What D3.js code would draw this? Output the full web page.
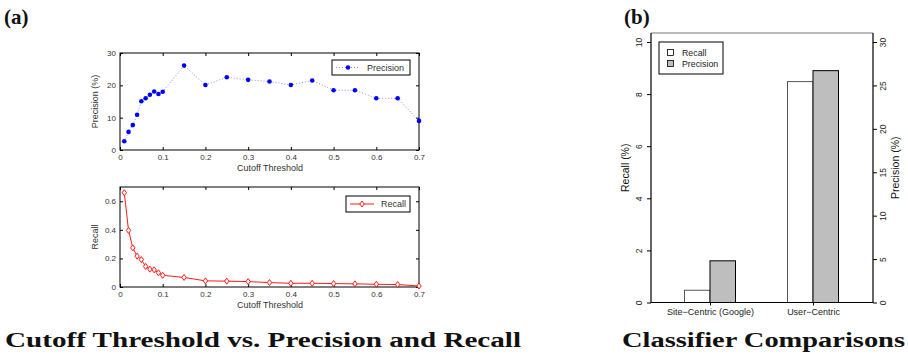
<!DOCTYPE html>
<html>
<head>
<meta charset="utf-8">
<script src="https://cdn.jsdelivr.net/npm/d3@7"></script>
<style>
  body { margin: 0; background: #fff; }
</style>
</head>
<body>
<svg id="chart" width="908" height="356"></svg>
<script>
// cutoff threshold sweep
const thresholds = [0.01, 0.02, 0.03, 0.04, 0.05, 0.06, 0.07, 0.08, 0.09, 0.10,
  0.15, 0.2, 0.25, 0.3, 0.35, 0.4, 0.45, 0.5, 0.55, 0.6, 0.65, 0.7];
const precision = [2.7, 5.6, 7.7, 10.9, 15.1, 16.0, 17.1, 18.1, 17.3, 18.0,
  26.1, 20.1, 22.5, 21.7, 21.2, 20.1, 21.5, 18.5, 18.5, 16.0, 16.0, 9.0];
const recall = [0.66, 0.396, 0.274, 0.216, 0.192, 0.144, 0.125, 0.12, 0.10, 0.082,
  0.067, 0.043, 0.041, 0.038, 0.031, 0.026, 0.026, 0.024, 0.022, 0.019, 0.017, 0.007];
const xTicks = [0, 0.1, 0.2, 0.3, 0.4, 0.5, 0.6, 0.7];
const precTicks = [0, 10, 20, 30];
const recallTicks = [0, 0.2, 0.4, 0.6];

// classifier comparison
const classifiers = ["Site\u2212Centric (Google)", "User\u2212Centric"];
const classRecall = [0.47, 8.48];      // %
const classPrecision = [4.8, 26.7];    // %
const leftTicks = [0, 2, 4, 6, 8, 10];
const rightTicks = [0, 5, 10, 15, 20, 25, 30];

const SANS = "'Liberation Sans', Arial, Helvetica, sans-serif";
const SERIF = "'Liberation Serif', 'DejaVu Serif', serif";

const svg = d3.select("#chart").style("font-family", SANS);
const tickCol = "#333";

function txt(sel, size, col) {
  return sel.attr("font-size", size).attr("fill", col || tickCol).style("font-family", SANS);
}

// ---------- panel (a) ----------
const x = d3.scaleLinear().domain([0, 0.7]).range([120, 419]);

function matlabAxes(y, ticks, y0, y1, ylabel) {
  svg.append("rect")
    .attr("x", 120).attr("y", y0)
    .attr("width", 299).attr("height", y1 - y0)
    .attr("fill", "none").attr("stroke", "#000").attr("stroke-width", 1);

  const gx = svg.append("g").attr("transform", "translate(0," + y1 + ")")
    .call(d3.axisBottom(x).tickValues(xTicks).tickSize(-3).tickPadding(4).tickFormat(d3.format("")));
  gx.attr("font-family", null).select(".domain").remove();
  txt(gx.selectAll("text"), 8);
  const gxt = svg.append("g").attr("transform", "translate(0," + y0 + ")")
    .call(d3.axisTop(x).tickValues(xTicks).tickSize(-3).tickFormat(""));
  gxt.select(".domain").remove();

  const gy = svg.append("g").attr("transform", "translate(120,0)")
    .call(d3.axisLeft(y).tickValues(ticks).tickSize(-3).tickPadding(4).tickFormat(d3.format("")));
  gy.attr("font-family", null).select(".domain").remove();
  txt(gy.selectAll("text"), 8);
  const gyr = svg.append("g").attr("transform", "translate(419,0)")
    .call(d3.axisRight(y).tickValues(ticks).tickSize(-3).tickFormat(""));
  gyr.select(".domain").remove();

  txt(svg.append("text"), 9).attr("x", 270).attr("y", y1 + 21)
    .attr("text-anchor", "middle").text("Cutoff Threshold");
  txt(svg.append("text"), 9)
    .attr("transform", "translate(" + 98 + "," + ((y0 + y1) / 2) + ") rotate(-90)")
    .attr("text-anchor", "middle").text(ylabel);
}

// precision subplot
const yP = d3.scaleLinear().domain([0, 30]).range([150, 53]);
matlabAxes(yP, precTicks, 53, 150, "Precision (%)");

const precPts = thresholds.map((t, i) => [t, precision[i]]);
svg.append("path").datum(precPts)
  .attr("d", d3.line().x(d => x(d[0])).y(d => yP(d[1])))
  .attr("fill", "none").attr("stroke", "#6b6bff").attr("stroke-width", 0.8)
  .attr("stroke-dasharray", "1,2");
svg.selectAll(".pdot").data(precPts).enter().append("circle")
  .attr("cx", d => x(d[0])).attr("cy", d => yP(d[1])).attr("r", 2.3)
  .attr("fill", "#0000ff");

// precision legend
svg.append("rect").attr("x", 332).attr("y", 60).attr("width", 78).attr("height", 15)
  .attr("fill", "#fff").attr("stroke", "#000").attr("stroke-width", 1);
svg.append("line").attr("x1", 336).attr("x2", 360).attr("y1", 67.5).attr("y2", 67.5)
  .attr("stroke", "#6b6bff").attr("stroke-width", 0.8).attr("stroke-dasharray", "1,2");
svg.append("circle").attr("cx", 348).attr("cy", 67.5).attr("r", 2.3).attr("fill", "#0000ff");
txt(svg.append("text"), 9).attr("x", 367).attr("y", 70.8).text("Precision");

// recall subplot
const yR = d3.scaleLinear().domain([0, 0.7]).range([287, 187]);
matlabAxes(yR, recallTicks, 187, 287, "Recall");

const recPts = thresholds.map((t, i) => [t, recall[i]]);
svg.append("path").datum(recPts)
  .attr("d", d3.line().x(d => x(d[0])).y(d => yR(d[1])))
  .attr("fill", "none").attr("stroke", "#ff0000").attr("stroke-width", 0.9);
const diamond = "M0,-3L2.2,0L0,3L-2.2,0Z";
svg.selectAll(".rdot").data(recPts).enter().append("path")
  .attr("d", diamond)
  .attr("transform", d => "translate(" + x(d[0]) + "," + yR(d[1]) + ")")
  .attr("fill", "#fff").attr("stroke", "#ff0000").attr("stroke-width", 0.9);

// recall legend
svg.append("rect").attr("x", 346).attr("y", 196).attr("width", 64).attr("height", 16)
  .attr("fill", "#fff").attr("stroke", "#000").attr("stroke-width", 1);
svg.append("line").attr("x1", 350).attr("x2", 374).attr("y1", 204).attr("y2", 204)
  .attr("stroke", "#ff0000").attr("stroke-width", 0.9);
svg.append("path").attr("d", diamond).attr("transform", "translate(362,204)")
  .attr("fill", "#fff").attr("stroke", "#ff0000").attr("stroke-width", 0.9);
txt(svg.append("text"), 9).attr("x", 381).attr("y", 207.3).text("Recall");

// ---------- panel (b) ----------
const bx0 = 651, bx1 = 873, by0 = 33, by1 = 302.5;
const yL = d3.scaleLinear().domain([0, 10]).range([by1, 42]);
const yRt = d3.scaleLinear().domain([0, 30]).range([by1, 42]);
const xb = d3.scalePoint().domain(classifiers).range([710, 813]);
const barW = 25.5;

classifiers.forEach((c, i) => {
  svg.append("rect")
    .attr("x", xb(c) - barW).attr("y", yL(classRecall[i]))
    .attr("width", barW).attr("height", by1 - yL(classRecall[i]))
    .attr("fill", "#fff").attr("stroke", "#555").attr("stroke-width", 1);
  svg.append("rect")
    .attr("x", xb(c)).attr("y", yRt(classPrecision[i]))
    .attr("width", barW).attr("height", by1 - yRt(classPrecision[i]))
    .attr("fill", "#bebebe").attr("stroke", "#000").attr("stroke-width", 1);
});

// frame: thin grey top, black sides and baseline
svg.append("line").attr("x1", bx0).attr("x2", bx1).attr("y1", by0).attr("y2", by0)
  .attr("stroke", "#777").attr("stroke-width", 1);
svg.append("path")
  .attr("d", "M" + bx0 + "," + by0 + "V" + by1 + "H" + bx1 + "V" + by0)
  .attr("fill", "none").attr("stroke", "#000").attr("stroke-width", 1.2);

// category labels
const gb = svg.append("g").attr("transform", "translate(0," + by1 + ")")
  .call(d3.axisBottom(xb).tickSize(3).tickPadding(3));
gb.attr("font-family", null).select(".domain").remove();
txt(gb.selectAll("text"), 9, "#222");

// left axis, R style rotated labels
const gl = svg.append("g").attr("transform", "translate(" + bx0 + ",0)")
  .call(d3.axisLeft(yL).tickValues(leftTicks).tickSize(4).tickFormat(d3.format("")));
gl.attr("font-family", null).select(".domain").remove();
txt(gl.selectAll("text"), 8.5, "#222")
  .attr("text-anchor", "middle").attr("x", null).attr("dy", null)
  .attr("transform", "translate(-9,0) rotate(-90)");

const gr = svg.append("g").attr("transform", "translate(" + bx1 + ",0)")
  .call(d3.axisRight(yRt).tickValues(rightTicks).tickSize(4).tickFormat(d3.format("")));
gr.attr("font-family", null).select(".domain").remove();
txt(gr.selectAll("text"), 8.5, "#222")
  .attr("text-anchor", "middle").attr("x", null).attr("dy", null)
  .attr("transform", "translate(12.5,0) rotate(-90)");

txt(svg.append("text"), 10.5, "#111").attr("transform", "translate(629," + ((by0 + by1) / 2) + ") rotate(-90)")
  .attr("text-anchor", "middle").text("Recall (%)");
txt(svg.append("text"), 10.5, "#111").attr("transform", "translate(899," + ((by0 + by1) / 2) + ") rotate(-90)")
  .attr("text-anchor", "middle").text("Precision (%)");

// legend
svg.append("rect").attr("x", 659).attr("y", 42).attr("width", 64).attr("height", 32)
  .attr("fill", "#fff").attr("stroke", "#000").attr("stroke-width", 1);
[["Recall", "#fff"], ["Precision", "#bebebe"]].forEach((d, i) => {
  svg.append("rect").attr("x", 667.5).attr("y", 49.5 + i * 11).attr("width", 6).attr("height", 6)
    .attr("fill", d[1]).attr("stroke", "#000").attr("stroke-width", 0.8);
  txt(svg.append("text"), 8.8, "#222").attr("x", 682).attr("y", 56 + i * 11).text(d[0]);
});

// ---------- captions ----------
function title(s, xPos, yPos, size, len) {
  const t = svg.append("text").attr("x", xPos).attr("y", yPos)
    .attr("font-size", size).attr("font-weight", "bold").attr("fill", "#111")
    .style("font-family", SERIF).text(s);
  if (len) t.attr("textLength", len).attr("lengthAdjust", "spacingAndGlyphs");
  return t;
}
title("(a)", 4, 24, 21);
title("(b)", 624, 24, 21);
title("Cutoff Threshold vs. Precision and Recall", 5, 347, 20, 516);
title("Classifier Comparisons", 622, 347, 20, 283);
</script>
</body>
</html>
